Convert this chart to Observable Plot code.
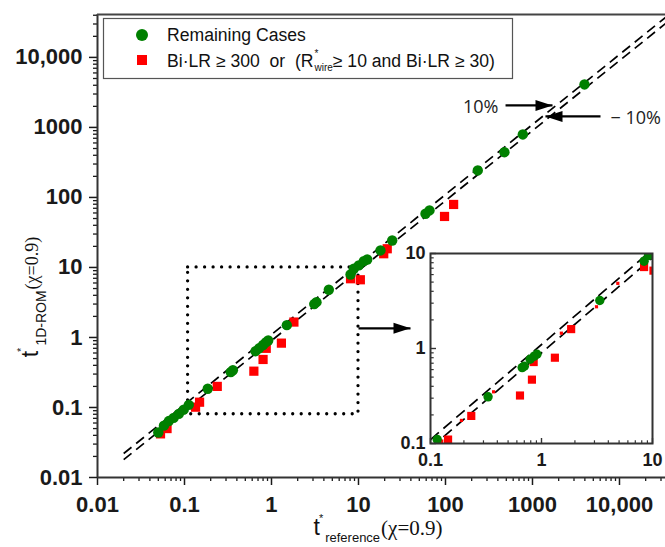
<!DOCTYPE html>
<html><head><meta charset="utf-8">
<script src="https://cdn.jsdelivr.net/npm/d3@7"></script>
<script src="https://cdn.jsdelivr.net/npm/@observablehq/plot@0.6"></script>
<style>
body{margin:0;background:#fff;}
#wrap{position:relative;width:665px;height:547px;overflow:hidden;font-family:"Liberation Sans",Arial,sans-serif;}
#wrap > svg{position:absolute;left:0;top:0;}
</style></head><body><div id="wrap"></div>
<script>
// ---- data ----
const greenX = [0.050,0.058,0.066,0.075,0.086,0.098,0.112,0.185,0.34,0.36,0.655,0.72,0.80,0.86,0.917,1.5,3.1,3.29,4.56,8.1,8.83,10.07,11.5,12.6,17.9,24.4,58.9,65.5,235,476,774,3960];
const greenY = [0.044,0.055,0.064,0.071,0.081,0.093,0.109,0.185,0.32,0.34,0.637,0.70,0.78,0.85,0.906,1.5,3.0,3.19,4.8,7.94,9.58,10.7,12.3,13.0,17.5,24.3,58.5,65.2,243,443,794,4110];
const redX = [0.053,0.063,0.134,0.149,0.238,0.627,0.80,0.87,1.30,1.81,8.1,10.5,19.5,21.4,97.5,124];
const redY = [0.042,0.050,0.101,0.119,0.200,0.330,0.485,0.70,0.83,1.66,6.9,6.67,15.7,18.5,53.5,79.4];
// inset (zoom of 0.1 – 10)
const insetGreenX = [0.115,0.33,0.67,0.70,0.79,0.86,0.91,3.35,8.4,9.2];
const insetGreenY = [0.110,0.31,0.63,0.65,0.77,0.83,0.87,3.2,8.3,9.5];
const insetRedX = [0.12,0.144,0.233,0.64,0.82,0.85,1.32,1.85,8.4,10.2];
const insetRedY = [0.10,0.110,0.195,0.32,0.47,0.72,0.80,1.60,7.2,6.6];
const insetSmallX = [0.19,0.37,1.51,3.13,4.87];
const insetSmallY = [0.175,0.35,1.45,2.75,4.85];
// ticks and labels
const majorTicks = [0.01,0.1,1,10,100,1000,10000];
const majorLabels = ["0.01","0.1","1","10","100","1000","10,000"];
const insetTicks = [0.1,1,10];
const insetLabels = ["0.1","1","10"];
// reference lines: ±10 %
const tolerance = [0.1,-0.1];
const tolLabels = ["10%","− 10%"];
const tolLabelX = [406,7880];
const tolLabelY = [1930,1345];
// annotation arrows (data units)
const arrowX1 = [490,6050,10];
const arrowX2 = [1698,1410,39.6];
const arrowY  = [2062,1436,1.35];
const arrowDir = ["r","l","r"];
// zoom box
const zoomBox = [{x1:0.11,x2:10,y1:0.08,y2:10}];
const legendLabels = ["Remaining Cases","Bi·LR ≥ 300  or  (R"];

// ---- helpers ----
const xDom = [0.01, 33800], yDom = [0.01, 41000];
const minorOf = (lo, hi) => { const out=[]; for (let d=lo; d<hi*1.0001; d*=10) for (let m=2;m<=9;m++){const v=d*m; if (v<=hi) out.push(v);} return out; };
const minorX = minorOf(0.01, xDom[1]);
const minorY = minorOf(0.01, yDom[1]);
const GREEN = "#008000", RED = "#ff0000", INK = "#1a1a1a";
const headR = {draw(c){c.moveTo(0,0);c.lineTo(-17,-5.5);c.lineTo(-17,5.5);c.closePath();}};
const headL = {draw(c){c.moveTo(0,0);c.lineTo(17,-5.5);c.lineTo(17,5.5);c.closePath();}};
const idx = a => a.map((_, i) => i);
const fmt = (ticks, labels) => d => labels[ticks.indexOf(d)];
const annFont = "'Open Sans', 'Liberation Sans', sans-serif";

const main = Plot.plot({
  width: 665, height: 547,
  marginLeft: 97, marginRight: 0, marginTop: 14, marginBottom: 70,
  x: {type: "log", domain: xDom, label: null},
  y: {type: "log", domain: yDom, label: null},
  style: {fontFamily: "'Liberation Sans', Arial, sans-serif", background: "white", color: INK, overflow: "visible"},
  marks: [
    Plot.axisX(minorX, {tickSize: 4, tickFormat: () => "", strokeWidth: 1.3, label: null}),
    Plot.axisX(majorTicks, {tickSize: 8, tickPadding: 11, tickFormat: fmt(majorTicks, majorLabels), fontSize: 22, fontWeight: "bold", strokeWidth: 1.5, label: null}),
    Plot.axisY(minorY, {tickSize: 4, tickFormat: () => "", strokeWidth: 1.3, label: null}),
    Plot.axisY(majorTicks, {tickSize: 8, tickPadding: 7, tickFormat: fmt(majorTicks, majorLabels), fontSize: 22, fontWeight: "bold", strokeWidth: 1.5, label: null}),
    Plot.ruleX([xDom[0]], {stroke: "#333", strokeWidth: 2}),
    Plot.ruleY([yDom[0]], {stroke: "#333", strokeWidth: 2}),
    Plot.ruleY([yDom[1]], {stroke: "#444", strokeWidth: 2}),
    Plot.link(tolerance, {x1: () => 0.02, x2: () => xDom[1], y1: t => 0.02*(1+t), y2: t => xDom[1]*(1+t),
      stroke: "black", strokeWidth: 1.7, strokeDasharray: "10,6", clip: true}),
    Plot.rect(zoomBox, {x1: "x1", x2: "x2", y1: "y1", y2: "y2", fill: "none", stroke: "black",
      strokeWidth: 3.3, strokeDasharray: "0,8.5", strokeLinecap: "round"}),
    Plot.dot(idx(redX), {x: i => redX[i], y: i => redY[i], symbol: "square", r: 5.2, fill: RED, stroke: "none"}),
    Plot.dot(idx(greenX), {x: i => greenX[i], y: i => greenY[i], r: 5.2, fill: GREEN, stroke: "none"}),
    Plot.link(idx(arrowX1), {x1: i => arrowX1[i], x2: i => arrowX2[i], y1: i => arrowY[i], y2: i => arrowY[i], stroke: "black", strokeWidth: 2.2}),
    Plot.dot(idx(arrowX1), {x: i => arrowX2[i], y: i => arrowY[i], symbol: i => arrowDir[i] === "r" ? headR : headL, fill: "black", stroke: "none", r: 1}),
    Plot.text([0], {x: i => tolLabelX[i], y: i => tolLabelY[i], text: i => tolLabels[i],
      textAnchor: "end", fontSize: 18, fill: "#222", fontFamily: annFont}),
    Plot.text([1], {x: i => tolLabelX[i], y: i => tolLabelY[i], text: i => tolLabels[i],
      textAnchor: "start", fontSize: 18, fill: "#222", fontFamily: annFont})
  ]
});

const L = 5.5, l = 3.2;
const tUp = n => ({draw(c){c.moveTo(0,0);c.lineTo(0,-n);}});
const tRight = n => ({draw(c){c.moveTo(0,0);c.lineTo(n,0);}});
const insetMinor = minorOf(0.1, 10);
const inset = Plot.plot({
  width: 275, height: 230,
  marginLeft: 40, marginRight: 13, marginTop: 13, marginBottom: 27,
  x: {type: "log", domain: [0.1, 10], label: null},
  y: {type: "log", domain: [0.1, 10], label: null},
  style: {fontFamily: "'Liberation Sans', Arial, sans-serif", background: "transparent", color: INK, overflow: "visible"},
  marks: [
    Plot.frame({fill: "white", stroke: "none"}),
    Plot.link(tolerance, {x1: () => 0.1, x2: () => 10, y1: t => 0.1*(1+t), y2: t => 10*(1+t),
      stroke: "black", strokeWidth: 1.7, strokeDasharray: "11,6", clip: true}),
    Plot.dot(idx(insetSmallX), {x: i => insetSmallX[i], y: i => insetSmallY[i], symbol: "square", r: 1.8, fill: RED, stroke: "none"}),
    Plot.dot(idx(insetRedX), {x: i => insetRedX[i], y: i => insetRedY[i], symbol: "square", r: 4.6, fill: RED, stroke: "none", clip: true}),
    Plot.dot(idx(insetGreenX), {x: i => insetGreenX[i], y: i => insetGreenY[i], r: 4.7, fill: GREEN, stroke: "none", clip: true}),
    Plot.frame({stroke: "#333", strokeWidth: 2}),
    Plot.dot(insetMinor, {x: d => d, y: () => 0.1, symbol: tUp(l), stroke: "#333", strokeWidth: 1.2, r: 1}),
    Plot.dot(insetTicks, {x: d => d, y: () => 0.1, symbol: tUp(L), stroke: "#333", strokeWidth: 1.4, r: 1}),
    Plot.dot(insetMinor, {x: () => 0.1, y: d => d, symbol: tRight(l), stroke: "#333", strokeWidth: 1.2, r: 1}),
    Plot.dot(insetTicks, {x: () => 0.1, y: d => d, symbol: tRight(L), stroke: "#333", strokeWidth: 1.4, r: 1}),
    Plot.axisX(insetTicks, {tickSize: 0, tickPadding: 10, tickFormat: fmt(insetTicks, insetLabels), fontSize: 18, fontWeight: "bold", label: null}),
    Plot.axisY(insetTicks, {tickSize: 0, tickPadding: 5, tickFormat: fmt(insetTicks, insetLabels), fontSize: 18, fontWeight: "bold", label: null})
  ]
});
inset.style.left = "390px";
inset.style.top = "240px";

const wrap = document.getElementById("wrap");
wrap.appendChild(main);
wrap.appendChild(inset);

// ---- legend and axis titles ----
const svg = d3.select(main);
const lg = svg.append("g").attr("text-anchor", "start").attr("font-family", "'Liberation Sans', Arial, sans-serif");
lg.append("rect").attr("x", 103.5).attr("y", 18.5).attr("width", 409).attr("height", 60)
  .attr("fill", "white").attr("stroke", "#555").attr("stroke-width", 1.2);
lg.append("circle").attr("cx", 142).attr("cy", 35).attr("r", 6).attr("fill", GREEN);
lg.append("rect").attr("x", 137).attr("y", 55).attr("width", 10).attr("height", 10).attr("fill", RED);
lg.append("text").attr("x", 167).attr("y", 41).attr("font-size", 17.6).attr("fill", "#111").text(legendLabels[0]);
const t2 = lg.append("text").attr("x", 167).attr("y", 67).attr("font-size", 17.6).attr("fill", "#111").style("white-space", "pre");
t2.append("tspan").text(legendLabels[1]);
t2.append("tspan").attr("font-size", 10).attr("dx", 1).attr("dy", -10).text("*");
t2.append("tspan").attr("font-size", 10).attr("dx", -4).attr("dy", 14).text("wire");
t2.append("tspan").attr("dy", -4).text("≥ 10 and Bi·LR ≥ 30)");

function title(g, sub, subSize, parSize, subDy) {
  const t = g.append("text").attr("text-anchor", "middle").attr("fill", "#111");
  t.append("tspan").attr("font-size", 23).text("t");
  t.append("tspan").attr("font-size", 11).attr("dx", -1).attr("dy", -13).text("*");
  t.append("tspan").attr("font-size", subSize).attr("dx", 2).attr("dy", 13 + subDy).text(sub);
  t.append("tspan").attr("font-size", parSize).attr("font-family", "'Liberation Serif', 'Times New Roman', serif").attr("dx", 1).attr("dy", -subDy).text("(χ=0.9)");
  return t;
}
title(svg.append("g").attr("transform", "translate(378,535)"), "reference", 13, 21, 7);
title(svg.append("g").attr("transform", "translate(38,297) rotate(-90)"), "1D-ROM", 14, 18, 8);
</script></body></html>
